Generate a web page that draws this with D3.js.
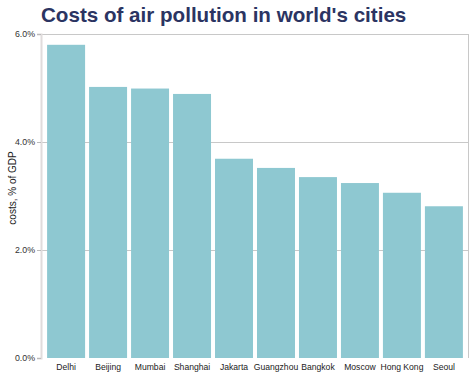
<!DOCTYPE html>
<html><head><meta charset="utf-8">
<script src="https://cdn.jsdelivr.net/npm/d3@7"></script>
<style>body{margin:0;background:#fff;}svg{display:block;font-family:"Liberation Sans",Arial,sans-serif;}</style>
</head><body>
<svg id="c" width="474" height="388"></svg>
<script>
const cities = ["Delhi","Beijing","Mumbai","Shanghai","Jakarta","Guangzhou","Bangkok","Moscow","Hong Kong","Seoul"];
const costs = [5.80,5.02,4.99,4.89,3.69,3.52,3.35,3.24,3.06,2.81];
const yTicks = [0,2,4,6];
const title = "Costs of air pollution in world's cities";
const yLabel = "costs, % of GDP";

const svg = d3.select("#c");
const m = {l:41, r:468, t:34, b:358};
const x = d3.scaleBand().domain(cities).range([45,465]).paddingInner(0.095).paddingOuter(0.05);
const y = d3.scaleLinear().domain([0,6]).range([m.b,m.t]);

// gridlines
svg.append("g").selectAll("line").data(yTicks.filter(d=>d>0)).join("line")
  .attr("x1",m.l).attr("x2",m.r).attr("y1",d=>y(d)+0.5).attr("y2",d=>y(d)+0.5)
  .attr("stroke","#c8c8c8").attr("stroke-width",1);
// right border
svg.append("line").attr("x1",m.r+0.5).attr("x2",m.r+0.5).attr("y1",m.t).attr("y2",m.b)
  .attr("stroke","#c8c8c8");

// bars
svg.append("g").selectAll("rect").data(cities).join("rect")
  .attr("x",d=>x(d)).attr("width",x.bandwidth())
  .attr("y",(d,i)=>y(costs[i])).attr("height",(d,i)=>y(0)-y(costs[i]))
  .attr("fill","#8ec8d1");

// y axis
const yAxis = d3.axisLeft(y).tickValues(yTicks).tickFormat(d=>d.toFixed(1)+"%").tickSize(4).tickPadding(2);
const ga = svg.append("g").attr("transform",`translate(${m.l},0)`).call(yAxis);
ga.select(".domain").attr("stroke","#e0dcdc").attr("stroke-width",2);
ga.selectAll(".tick line").attr("stroke","#bbb");
ga.selectAll(".tick text").attr("font-size",8.8).attr("fill","#333").attr("font-family","Liberation Sans, Arial, sans-serif");

// x axis
const xAxis = d3.axisBottom(x).tickSize(0).tickPadding(6);
const gx = svg.append("g").attr("transform",`translate(0,${m.b})`).call(xAxis);
gx.select(".domain").remove();
gx.selectAll(".tick text").attr("font-size",8.6).attr("fill","#222").attr("font-family","Liberation Sans, Arial, sans-serif");

// y label
svg.append("text").attr("transform",`translate(16,188) rotate(-90)`)
  .attr("text-anchor","middle").attr("font-size",10).attr("fill","#222").text(yLabel);

// title
svg.append("text").attr("x",41).attr("y",22).attr("font-size",20.6).attr("font-weight","bold")
  .attr("fill","#2b3462").text(title);
</script>
</body></html>
